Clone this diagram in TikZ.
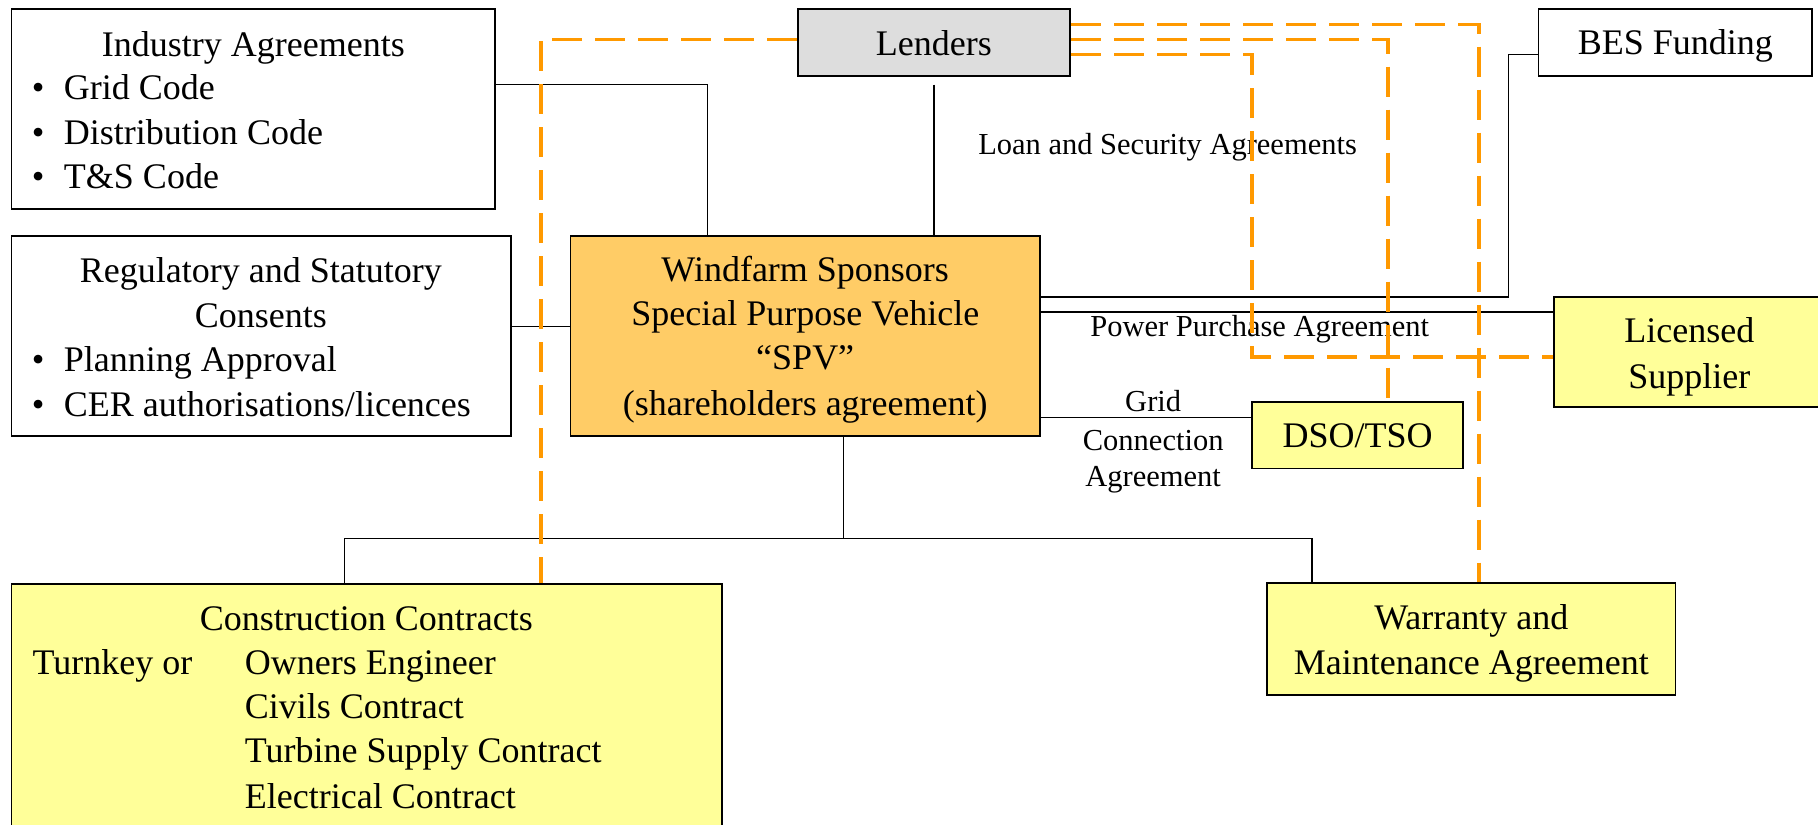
\documentclass[tikz,border=0pt]{standalone}
\usepackage{fontspec}
\setmainfont{Liberation Serif}
\usetikzlibrary{fit,calc}
\definecolor{dorange}{HTML}{FF9900}
\definecolor{spvfill}{HTML}{FFCC66}
\definecolor{yel}{HTML}{FFFF99}
\definecolor{lgray}{HTML}{DDDDDD}
\begin{document}
\begin{tikzpicture}[x=1.1594pt,y=-1.1594pt,
  box/.style={draw=black,line width=1.7pt,inner sep=0pt},
  conn/.style={draw=black,line width=1.4pt},
  dsh/.style={draw=dorange,line width=3.6pt,dash pattern=on 30pt off 13pt},
  txt/.style={font=\fontsize{36}{44}\selectfont,inner sep=0pt,anchor=base},
  txl/.style={txt,anchor=base west},
  lbl/.style={font=\fontsize{30.5}{38}\selectfont,inner sep=0pt,anchor=base}]
\clip (0,0) rectangle (1568,711);
\fill[white] (0,0) rectangle (1568,711);
% boxes
\node[box,fit={(10,8) (427,180.5)}] (ind) {};
\node[box,fit={(10,203.6) (440.5,376)}] (reg) {};
\node[box,fill=lgray,fit={(688,8) (923,65.5)}] (lend) {};
\node[box,fit={(1327,8) (1563,65.5)}] (bes) {};
\node[box,fill=spvfill,fit={(492,203.6) (897,376)}] (spv) {};
\node[box,fill=yel,fit={(1340,256) (1580,351)}] (lic) {};
\node[box,fill=yel,fit={(1080,347) (1262,404)}] (dso) {};
\node[box,fill=yel,fit={(10,503.7) (623,730)}] (con) {};
\node[box,fill=yel,fit={(1093,503) (1445,599.6)}] (war) {};
% texts
\node[txt] (tind) at (218.5,48.8) {Industry Agreements};
\node[txt] (b1) at (33,86) {•};
\node[txl] (tgc) at (55,86) {Grid Code};
\node[txt] (b2) at (33,125) {•};
\node[txl] (tdc) at (55,125) {Distribution Code};
\node[txt] (b3) at (33,163) {•};
\node[txl] (tts) at (55,163) {T\&S Code};
\node[txt] (treg1) at (225,244) {Regulatory and Statutory};
\node[txt] (treg2) at (225,282.5) {Consents};
\node[txt] (b4) at (33,320.5) {•};
\node[txl] (tpa) at (55,320.5) {Planning Approval};
\node[txt] (b5) at (33,359) {•};
\node[txl] (tcer) at (55,359) {CER authorisations/licences};
\node[txt] (tlend) at (805.5,48) {Lenders};
\node[txt] (tbes) at (1445,47.4) {BES Funding};
\node[txt] (tspv1) at (694.5,243) {Windfarm Sponsors};
\node[txt] (tspv2) at (694.5,281) {Special Purpose Vehicle};
\node[txt] (tspv3) at (694.5,319) {“SPV”};
\node[txt] (tspv4) at (694.5,358) {(shareholders agreement)};
\node[txt] (tlic1) at (1457,295) {Licensed};
\node[txt] (tlic2) at (1457,335) {Supplier};
\node[txt] (tdso) at (1171,386) {DSO/TSO};
\node[txt] (twar1) at (1269,543) {Warranty and};
\node[txt] (twar2) at (1269,582) {Maintenance Agreement};
\node[txt] (tcon) at (316,544) {Construction Contracts};
\node[txl] (ttk) at (28,582) {Turnkey or};
\node[txl] (toe) at (211,582) {Owners Engineer};
\node[txl] (tcc) at (211,620) {Civils Contract};
\node[txl] (ttsc) at (211,658) {Turbine Supply Contract};
\node[txl] (tec) at (211,697) {Electrical Contract};
% labels
\node[lbl] (lloan) at (1007,133.5) {Loan and Security Agreements};
\node[lbl] (lppa) at (1086.5,290.5) {Power Purchase Agreement};
\node[lbl] (lg1) at (994.6,355) {Grid};
\node[lbl] (lg2) at (994.6,388.5) {Connection};
\node[lbl] (lg3) at (994.6,420) {Agreement};
% connectors
\coordinate (j1) at (610,73);
\draw[conn] (ind.east |- j1) -- (j1) -- (j1 |- spv.north);
\coordinate (j2) at (805.5,73);
\draw[conn] (j2) -- (j2 |- spv.north);
\coordinate (j3) at (466,281.8);
\draw[conn] (reg.east |- j3) -- (spv.west |- j3);
\coordinate (j4) at (1301,256);
\coordinate (j5) at (1301,47);
\draw[conn] (spv.east |- j4) -- (j4) -- (j5) -- (bes.west |- j5);
\coordinate (j6) at (1000,269);
\draw[conn] (spv.east |- j6) -- (lic.west |- j6);
\coordinate (j7) at (1000,360);
\draw[conn] (spv.east |- j7) -- (dso.west |- j7);
\coordinate (j8) at (727.7,464.3);
\coordinate (j9) at (297,464.3);
\coordinate (j10) at (1131.7,464.3);
\draw[conn] (spv.south -| j8) -- (j8);
\draw[conn] (j9 |- con.north) -- (j9) -- (j10) -- (j10 |- war.north);
% dashed
\coordinate (k1) at (466.5,34);
\draw[dsh] (lend.west |- k1) -- (k1) -- (k1 |- con.north);
\coordinate (k2) at (1275.5,21);
\draw[dsh] (lend.east |- k2) -- (k2) -- (k2 |- war.north);
\coordinate (k3) at (1197,34);
\draw[dsh] (lend.east |- k3) -- (k3) -- (k3 |- dso.north);
\coordinate (k4) at (1080,47);
\coordinate (k5) at (1080,308);
\draw[dsh] (lend.east |- k4) -- (k4) -- (k5) -- (lic.west |- k5);
\end{tikzpicture}
\end{document}
